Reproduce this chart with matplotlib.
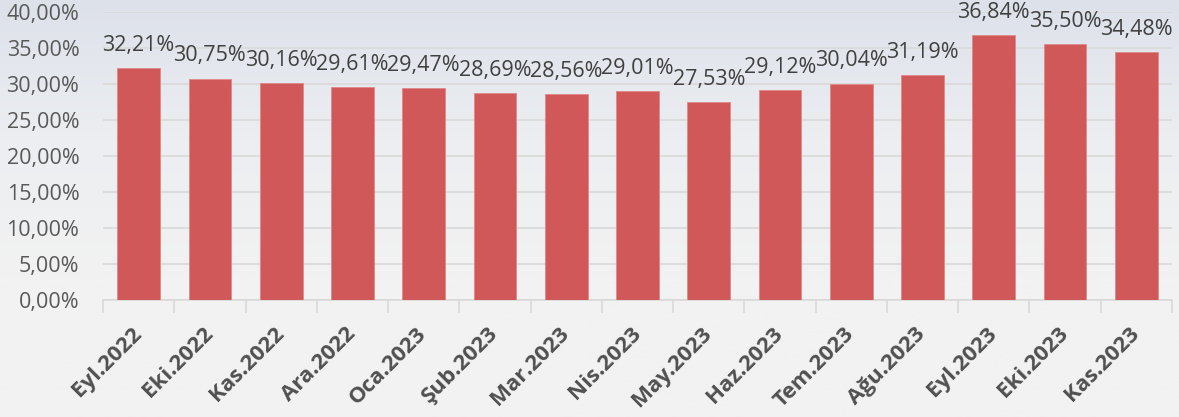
import matplotlib
matplotlib.use("Agg")
import matplotlib.pyplot as plt
import numpy as np
from matplotlib.colors import LinearSegmentedColormap

categories = ["Eyl.2022", "Eki.2022", "Kas.2022", "Ara.2022", "Oca.2023", "Şub.2023",
              "Mar.2023", "Nis.2023", "May.2023", "Haz.2023", "Tem.2023", "Ağu.2023",
              "Eyl.2023", "Eki.2023", "Kas.2023"]
values = [32.21, 30.75, 30.16, 29.61, 29.47, 28.69, 28.56, 29.01, 27.53, 29.12,
          30.04, 31.19, 36.84, 35.50, 34.48]
yticks = [0, 5, 10, 15, 20, 25, 30, 35, 40]

def fmt(v):
    return f"{v:.2f}".replace(".", ",") + "%"

W, H = 1179, 417
fig = plt.figure(figsize=(W / 100, H / 100), dpi=100)

# background gradient
bg = fig.add_axes([0, 0, 1, 1], zorder=0)
cmap = LinearSegmentedColormap.from_list("bg", ["#dde1ea", "#eceef1", "#f2f2f2", "#f2f2f2"])
grad = np.linspace(0, 1, 256).reshape(-1, 1)
bg.imshow(grad, aspect="auto", cmap=cmap, extent=[0, 1, 0, 1])
bg.axis("off")

left, right = 103 / W, 1172 / W
bottom, top = 1 - 300 / H, 1 - 12 / H
ax = fig.add_axes([left, bottom, right - left, top - bottom], zorder=1)
ax.patch.set_alpha(0)

x = np.arange(len(categories))
ax.bar(x, values, width=0.6, color="#d05858", edgecolor="#e08888", linewidth=0.6, zorder=3)
ax.set_xlim(-0.5, len(categories) - 0.5)
ax.set_ylim(0, 40)
ax.set_yticks(yticks)
ax.set_yticklabels([f"{t},00%" for t in yticks], fontsize=15.5, color="#595959", family="Open Sans")
ax.yaxis.grid(True, color="#d9d9d9", linewidth=1.2, zorder=0)
ax.tick_params(axis="y", length=0, pad=17)

for xi, v in zip(x, values):
    ax.text(xi, v + 1.7, fmt(v), ha="center", va="bottom", fontsize=15.5,
            color="#404040", family="Open Sans", zorder=4)

# x ticks at category boundaries
ax.set_xticks(np.arange(-0.5, len(categories), 1), minor=False)
ax.set_xticklabels([])
ax.tick_params(axis="x", length=9, color="#d9d9d9", width=1.2)
ax.set_xticks(x, minor=True)
ax.set_xticklabels(categories, minor=True, rotation=45, ha="right", va="center",
                   rotation_mode="anchor", fontsize=16, fontweight="bold",
                   color="#505050", family="Open Sans")
ax.tick_params(axis="x", which="minor", length=0, pad=22)

for s in ["top", "right", "left"]:
    ax.spines[s].set_visible(False)
ax.spines["bottom"].set_color("#d9d9d9")
ax.spines["bottom"].set_linewidth(1.2)

fig.savefig("out.png", dpi=100)
